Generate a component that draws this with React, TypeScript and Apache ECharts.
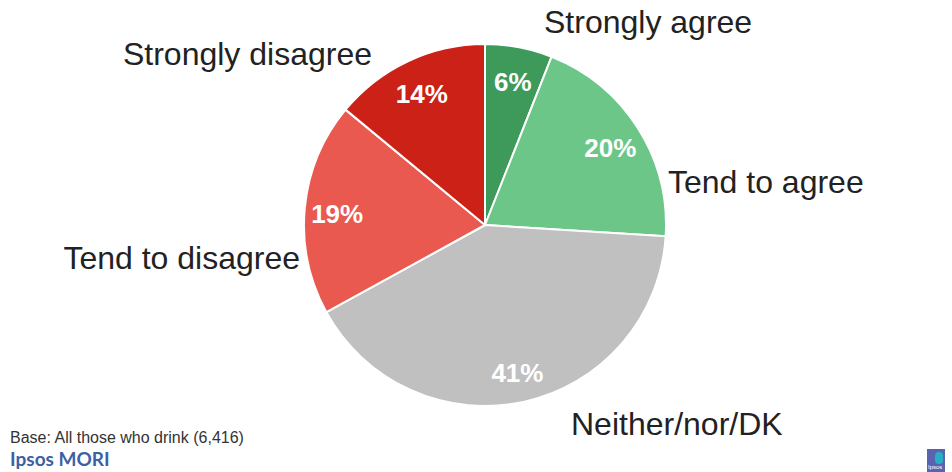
import React, { useEffect, useRef } from "react";
import * as echarts from "echarts";

const categories = ["Strongly agree", "Tend to agree", "Neither/nor/DK", "Tend to disagree", "Strongly disagree"];
const values = [6, 20, 41, 19, 14];
const colors = ["#3d9a5b", "#6cc688", "#c0c0c0", "#ea5950", "#cb2116"];
const labelSpots = [
  { x: 544, y: 22, align: "left" },
  { x: 668, y: 182, align: "left" },
  { x: 571, y: 424, align: "left" },
  { x: 300, y: 258, align: "right" },
  { x: 372, y: 54, align: "right" },
];
const baseNote = "Base: All those who drink (6,416)";
const brand = "Ipsos MORI";

export default function App() {
  const ref = useRef<HTMLDivElement>(null);
  useEffect(() => {
    const chart = echarts.init(ref.current!, null, { renderer: "svg" });
    const data = categories.map((c, i) => ({ name: c, value: values[i], itemStyle: { color: colors[i] } }));
    chart.setOption({
      animation: false,
      backgroundColor: "#ffffff",
      series: [
        {
          type: "pie",
          center: [485, 225],
          radius: [0, 181],
          startAngle: 90,
          clockwise: true,
          data,
          itemStyle: { borderColor: "#ffffff", borderWidth: 2 },
          label: {
            show: true,
            position: "outside",
            formatter: "{b}",
            color: "#222222",
            fontFamily: "Liberation Sans, Arial, sans-serif",
            fontSize: 32,
          },
          labelLine: { show: false },
          labelLayout: (p: any) => {
            const s = labelSpots[p.dataIndex];
            return { x: s.x, y: s.y, align: s.align, verticalAlign: "middle" };
          },
          silent: true,
        },
        {
          type: "pie",
          center: [485, 228],
          radius: [110, 181],
          startAngle: 90,
          clockwise: true,
          data: categories.map((c, i) => ({ name: c, value: values[i] })),
          itemStyle: { color: "rgba(0,0,0,0)" },
          label: {
            show: true,
            position: "inside",
            formatter: "{c}%",
            color: "#ffffff",
            fontWeight: "bold",
            fontFamily: "Liberation Sans, Arial, sans-serif",
            fontSize: 26,
          },
          labelLine: { show: false },
          silent: true,
        },
      ],
      graphic: [
        {
          type: "text",
          left: 10,
          top: 429,
          style: { text: baseNote, fill: "#333333", font: "16px Liberation Sans, Arial, sans-serif" },
        },
        {
          type: "text",
          left: 10,
          top: 449,
          style: { text: brand, fill: "#3d5fa6", font: "bold 19px Lato, Liberation Sans, Arial, sans-serif" },
        },
        { type: "rect", shape: { x: 927, y: 449, width: 18, height: 23 }, style: { fill: "#5a63b0" } },
        { type: "rect", shape: { x: 935, y: 452, width: 8, height: 12, r: 4 }, style: { fill: "#27b0c4" } },
        {
          type: "text",
          x: 928,
          y: 464,
          style: { text: "Ipsos", fill: "#ffffff", font: "6px Liberation Sans, Arial, sans-serif" },
        },
      ],
    });
    return () => chart.dispose();
  }, []);
  return <div ref={ref} style={{ position: "fixed", left: 0, top: 0, width: 952, height: 472 }} />;
}
